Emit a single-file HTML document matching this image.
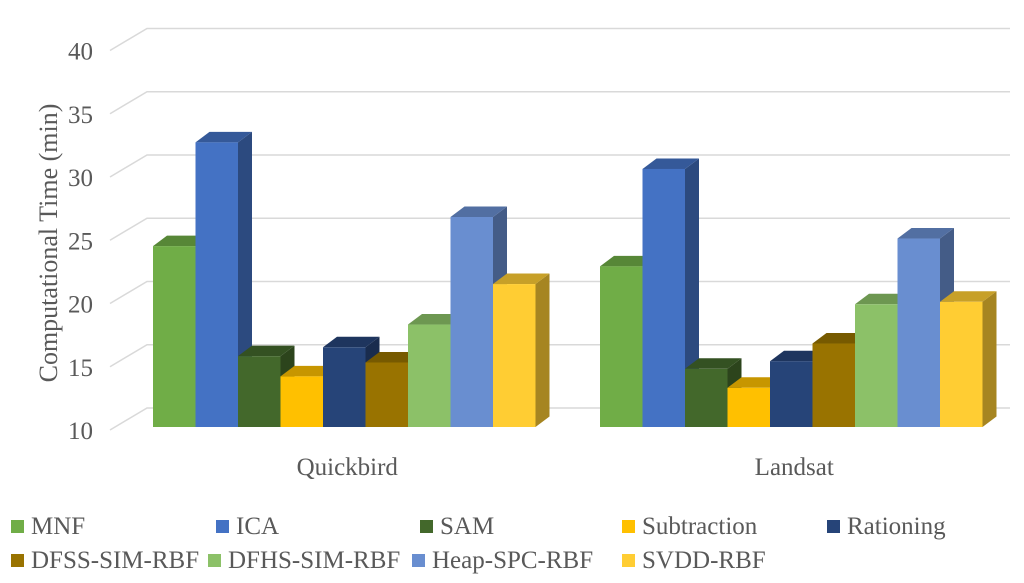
<!DOCTYPE html>
<html><head><meta charset="utf-8"><style>
html,body{margin:0;padding:0;background:#fff;}
svg{display:block;font-family:"Liberation Serif",serif;}
</style></head><body>
<svg id="chart" width="1024" height="583" viewBox="0 0 1024 583" xmlns="http://www.w3.org/2000/svg">
<g id="grid"></g>
<g id="ylabels"></g>
<text transform="translate(57,243) rotate(-90)" text-anchor="middle" font-size="26" fill="#595959">Computational Time (min)</text>
<g id="bars"></g>
<g id="xlabels"></g>
<g id="legend"></g>
</svg>
<script>
const categories = ["Quickbird", "Landsat"];
const seriesNames = ["MNF","ICA","SAM","Subtraction","Rationing","DFSS-SIM-RBF","DFHS-SIM-RBF","Heap-SPC-RBF","SVDD-RBF"];
const quickbirdValues = [24.3, 32.5, 15.6, 14.0, 16.3, 15.1, 18.1, 26.6, 21.3];
const landsatValues = [22.7, 30.4, 14.6, 13.1, 15.2, 16.6, 19.7, 24.9, 19.9];
const yTicks = [10, 15, 20, 25, 30, 35, 40];
const colors = ["#70AD47","#4472C4","#43682B","#FFC000","#264478","#997300","#8CC168","#698ED0","#FFCD33"];

const NS = "http://www.w3.org/2000/svg";
const yMin = 10, scale = 12.65, baseY = 427, backY = 408, DY = -22;
const barW = 42.5, bdx = 14, bdy = -10.5;
const groupStart = [153, 600];
function yFront(v){ return baseY - (v - yMin) * scale; }
function yBack(v){ return backY - (v - yMin) * scale; }
function shade(hex, f){
  const n = parseInt(hex.slice(1),16);
  const r = Math.round(((n>>16)&255)*f), g = Math.round(((n>>8)&255)*f), b = Math.round((n&255)*f);
  return "rgb("+r+","+g+","+b+")";
}
function mk(tag, attrs, parent){
  const e = document.createElementNS(NS, tag);
  for (const k in attrs) e.setAttribute(k, attrs[k]);
  parent.appendChild(e);
  return e;
}
const grid = document.getElementById("grid");
const yl = document.getElementById("ylabels");
yTicks.forEach(t => {
  const yb = yBack(t);
  const p = mk("polyline", {points: "110,"+(yb - DY)+" 147,"+yb+" 1010,"+yb, fill:"none", stroke:"#d9d9d9", "stroke-width":"1.5"}, grid);
  
  
  const tx = mk("text", {x:93, y:yb - DY + 9, "text-anchor":"end", "font-size":"25", fill:"#595959"}, yl);
  tx.textContent = t;
  
  
});
const bars = document.getElementById("bars");
const allValues = [quickbirdValues, landsatValues];
allValues.forEach((vals, gi) => {
  vals.forEach((v, si) => {
    const x = groupStart[gi] + si * barW;
    const yt = yFront(v);
    const g = mk("g", {}, bars);
    
    
    mk("polygon", {points: (x+barW)+","+yt+" "+(x+barW+bdx)+","+(yt+bdy)+" "+(x+barW+bdx)+","+(baseY+bdy)+" "+(x+barW)+","+baseY, fill: shade(colors[si],0.65)}, g);
    mk("polygon", {points: x+","+yt+" "+(x+bdx)+","+(yt+bdy)+" "+(x+barW+bdx)+","+(yt+bdy)+" "+(x+barW)+","+yt, fill: shade(colors[si],0.78)}, g);
    mk("rect", {x:x, y:yt, width:barW, height: baseY - yt, fill: colors[si]}, g);
  });
});
const xl = document.getElementById("xlabels");
categories.forEach((c, gi) => {
  const t = mk("text", {x: groupStart[gi] + 4.5*barW + 3, y: 475, "text-anchor":"middle", "font-size":"25", fill:"#595959"}, xl);
  t.textContent = c;
  
  
});
const legendX = [[11, 216, 420, 622, 827], [11, 208, 412, 622]];
const legendY = [534, 568];
const lg = document.getElementById("legend");
seriesNames.forEach((n, i) => {
  const row = Math.floor(i / 5), col = i % 5;
  const x = legendX[row][col], y = legendY[row];
  const g = mk("g", {}, lg);
  
  
  mk("rect", {x:x, y:y-14, width:13, height:13, fill: colors[i]}, g);
  const t = mk("text", {x:x+20, y:y, "font-size":"25", fill:"#595959"}, g);
  t.textContent = n;
});
</script>
</body></html>
